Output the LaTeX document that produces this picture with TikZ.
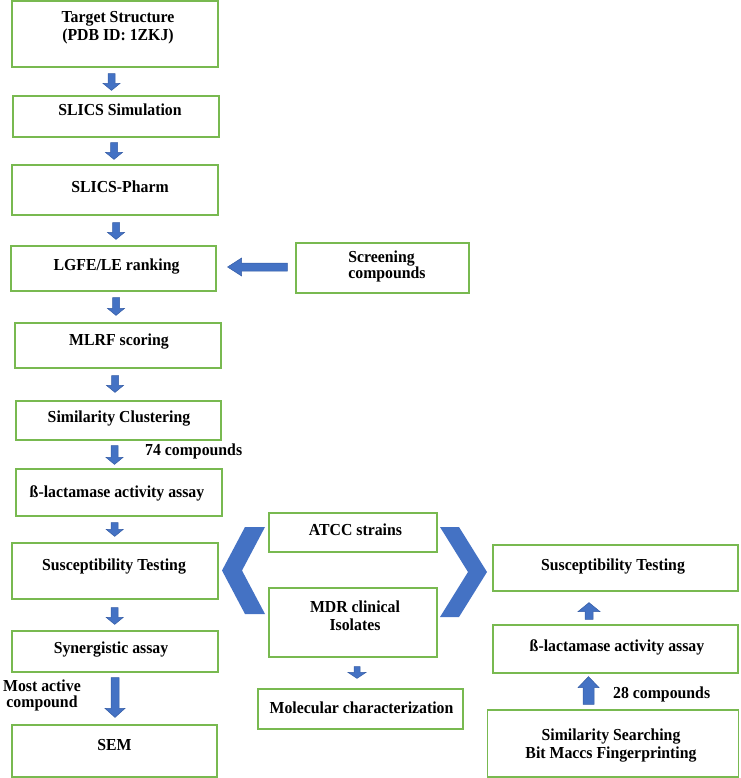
\documentclass[tikz,border=0pt]{standalone}
\usepackage{fontspec}
\setmainfont{Liberation Serif}[FakeStretch=0.94]
\usetikzlibrary{calc}
\definecolor{gbox}{RGB}{120,185,80}
\definecolor{ablue}{RGB}{68,114,196}
\definecolor{adark}{RGB}{52,92,165}
% vertical block arrow from node anchor #1 to node anchor #2 at x=#3,
% gaps #4 (start) and #5 (end), shaft width #6, head width #7, head length #8
\newcommand\vblk[8]{%
  \fill[ablue, draw=adark, line width=0.5pt] let \p1=(#1), \p2=(#2), \n1={(\y2>\y1)*2-1} in
    ({#3pt-#6pt/2},{\y1+\n1*#4pt}) -- ({#3pt+#6pt/2},{\y1+\n1*#4pt})
    -- ({#3pt+#6pt/2},{\y2-\n1*#5pt-\n1*#8pt}) -- ({#3pt+#7pt/2},{\y2-\n1*#5pt-\n1*#8pt})
    -- ({#3pt},{\y2-\n1*#5pt})
    -- ({#3pt-#7pt/2},{\y2-\n1*#5pt-\n1*#8pt}) -- ({#3pt-#6pt/2},{\y2-\n1*#5pt-\n1*#8pt}) -- cycle;}
\begin{document}
\begin{tikzpicture}[x=1pt,y=-1pt,
  box/.style={draw=gbox, line width=1.2pt, inner sep=0pt},
  lbl/.style={font=\bfseries\fontsize{16.8}{18}\selectfont, align=center, inner sep=0pt, text=black},
  lbl1/.style={lbl, text height=11.5pt, text depth=3.7pt},
  lbl16/.style={lbl, font=\bfseries\fontsize{16.8}{16}\selectfont},
]
\useasboundingbox (0,0) rectangle (740,778);

% left column
\node[box, minimum width=206pt, minimum height=66pt,
  label={[lbl, xshift=3pt, yshift=6.4pt]center:{Target Structure\\(PDB ID: 1ZKJ)}}] (L1) at (115,34) {};
\node[box, minimum width=206pt, minimum height=41pt,
  label={[lbl1, xshift=4pt, yshift=4.9pt]center:{SLICS Simulation}}] (L2) at (116,116.5) {};
\node[box, minimum width=206pt, minimum height=50pt,
  label={[lbl1, xshift=5pt, yshift=1.9pt]center:{SLICS-Pharm}}] (L3) at (115,190) {};
\node[box, minimum width=205pt, minimum height=45pt,
  label={[lbl1, xshift=3pt, yshift=2.2pt]center:{LGFE/LE ranking}}] (L4) at (113.5,268.5) {};
\node[box, minimum width=206pt, minimum height=45pt,
  label={[lbl1, xshift=1pt, yshift=3.9pt]center:{MLRF scoring}}] (L5) at (118,345.5) {};
\node[box, minimum width=205pt, minimum height=39pt,
  label={[lbl1, xshift=0.5pt, yshift=1.9pt]center:{Similarity Clustering}}] (L6) at (118.5,420.5) {};
\node[box, minimum width=206pt, minimum height=47pt,
  label={[lbl1, xshift=-2pt, yshift=-0.6pt]center:{ß-lactamase activity assay}}] (L7) at (119,492.5) {};
\node[box, minimum width=206pt, minimum height=56pt,
  label={[lbl1, xshift=-1pt, yshift=4.4pt]center:{Susceptibility Testing}}] (L8) at (115,571) {};
\node[box, minimum width=206pt, minimum height=41pt,
  label={[lbl1, xshift=-4pt, yshift=2.2pt]center:{Synergistic assay}}] (L9) at (115,651.5) {};
\node[box, minimum width=205pt, minimum height=52pt,
  label={[lbl1, xshift=0pt, yshift=4.4pt]center:{SEM}}] (L10) at (114.5,751) {};

% screening
\node[box, minimum width=173pt, minimum height=50pt,
  label={[lbl16, align=left, xshift=4.5pt, yshift=1.6pt]center:{Screening\\compounds}}] (S) at (382.5,268) {};

% middle
\node[box, minimum width=168pt, minimum height=39pt,
  label={[lbl1, xshift=2.5pt, yshift=0.9pt]center:{ATCC strains}}] (M1) at (353,532.5) {};
\node[box, minimum width=168pt, minimum height=69pt,
  label={[lbl, xshift=2pt, yshift=6.8pt]center:{MDR clinical\\Isolates}}] (M2) at (353,622.5) {};
\node[box, minimum width=205pt, minimum height=40pt,
  label={[lbl1, xshift=1pt, yshift=-1pt]center:{Molecular characterization}}] (M3) at (360.5,709) {};

% right column
\node[box, minimum width=245pt, minimum height=46pt,
  label={[lbl1, xshift=-2.5pt, yshift=1.4pt]center:{Susceptibility Testing}}] (R1) at (615.5,568) {};
\node[box, minimum width=245pt, minimum height=48pt,
  label={[lbl1, xshift=1.5pt, yshift=1.4pt]center:{ß-lactamase activity assay}}] (R2) at (615.5,649) {};
\node[box, minimum width=251pt, minimum height=67pt,
  label={[lbl, xshift=-2pt, yshift=-1.9pt]center:{Similarity Searching\\Bit Maccs Fingerprinting}}] (R3) at (613,743.5) {};

% free texts
\node[lbl1, anchor=base west] (c74) at (145,455.7) {74 compounds};
\node[lbl1, anchor=base west] (c28) at (613,698) {28 compounds};
\node[lbl16] (mac) at (42,695.4) {Most active\\compound};

% block arrows
\vblk{L1.south}{L2.north}{111.5}{6}{5}{7}{17}{7}
\vblk{L2.south}{L3.north}{114}{5}{5}{7}{17}{7}
\vblk{L3.south}{L4.north}{116}{7}{6}{7}{17}{7}
\vblk{L4.south}{L5.north}{116}{6}{7}{7}{17}{7}
\vblk{L5.south}{L6.north}{115}{7}{8}{7}{17}{7}
\vblk{L6.south}{L7.north}{114.5}{5}{4}{7}{17}{7}
\vblk{L7.south}{L8.north}{114.7}{6}{6}{7}{17}{7}
\vblk{L8.south}{L9.north}{114.7}{8}{6}{7}{17}{7}
\vblk{L9.south}{L10.north}{115}{5}{7}{8}{20}{9}
\vblk{M2.south}{M3.north}{357}{9}{10}{6}{18}{6}
\vblk{R2.north}{R1.south}{589}{5}{11}{8}{22}{9}
\vblk{R3.north}{R2.south}{588.5}{5}{3}{11}{21}{11}
% horizontal block arrow: Screening compounds -> LGFE/LE ranking
\fill[ablue, draw=adark, line width=0.5pt] let \p1=(S.west), \p2=(L4.east) in
  ({\x1-8pt},-263pt) -- ({\x2+25pt},-263pt) -- ({\x2+25pt},-258pt) -- ({\x2+11pt},-267pt)
  -- ({\x2+25pt},-276pt) -- ({\x2+25pt},-271pt) -- ({\x1-8pt},-271pt) -- cycle;

% chevrons
\fill[ablue] (245,527) -- (265,527) -- (242,570.5) -- (265,614) -- (245,614) -- (222,570.5) -- cycle;
\fill[ablue] (440,527) -- (459,527) -- (487,572) -- (459,617) -- (440,617) -- (468,572) -- cycle;
\end{tikzpicture}
\end{document}
